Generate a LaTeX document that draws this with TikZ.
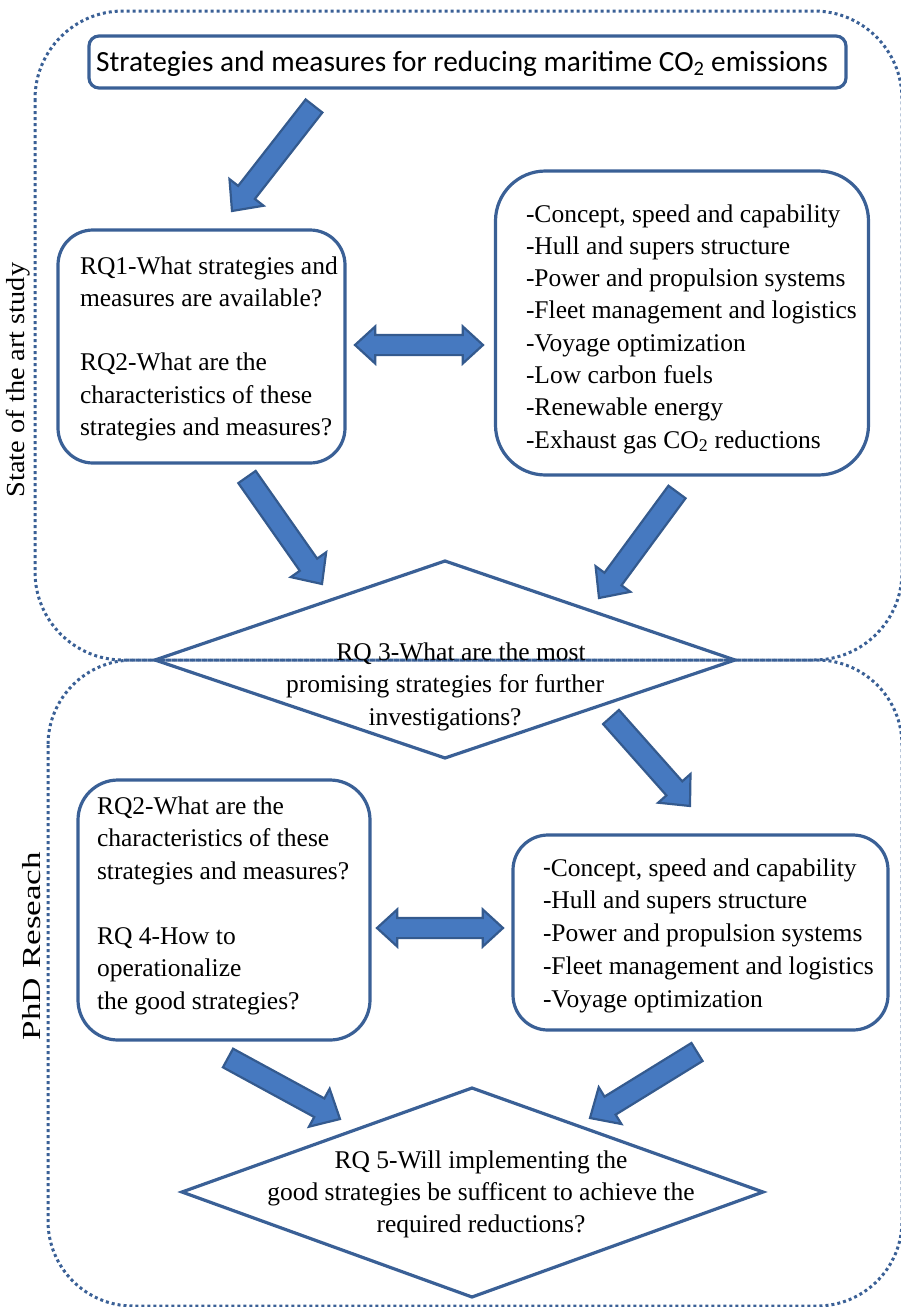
\documentclass[tikz,border=0pt]{standalone}
\usepackage{fontspec}
\setmainfont{Liberation Serif}
\newfontfamily\titlefnt{Carlito}
\usetikzlibrary{shapes.arrows,calc}
\definecolor{bdr}{RGB}{58,96,150}
\definecolor{afill}{RGB}{70,121,192}
\definecolor{aline}{RGB}{52,90,142}
\newcommand\blockarr[2]{%
  \path let \p1=(#1), \p2=(#2), \n1={atan2(\y2-\y1,\x2-\x1)}, \n2={veclen(\x2-\x1,\y2-\y1)} in
    node[barrow, minimum height=\n2, rotate=\n1, anchor=tail] at (\p1) {};}
\begin{document}
\begin{tikzpicture}[x=1pt,y=-1pt,
  box/.style={draw=bdr, line width=3.2pt, fill=white, inner sep=0pt, outer sep=0pt},
  dotline/.style={draw=bdr, line width=3pt, dash pattern=on 3pt off 3pt},
  dia/.style={draw=bdr, line width=3.2pt, line join=miter},
  txt/.style={inner sep=0pt, outer sep=0pt, align=left, anchor=north west, font=\fontsize{25.5}{32.3}\selectfont},
  ctxt/.style={inner sep=0pt, outer sep=0pt, align=center, anchor=north, font=\fontsize{25.5}{32.5}\selectfont},
  barrow/.style={single arrow, draw=aline, fill=afill, line width=2.2pt, inner xsep=0pt, inner ysep=9.5pt, outer sep=0pt,
    single arrow head extend=11pt, single arrow tip angle=85, shape border rotate=0},
  darrow/.style={double arrow, draw=aline, fill=afill, line width=2.2pt, inner xsep=0pt, inner ysep=9pt, outer sep=0pt,
    double arrow head extend=8.5pt, double arrow tip angle=85, minimum height=128pt},
  side/.style={inner sep=0pt, rotate=90, font=\fontsize{26}{30}\selectfont}
]
\useasboundingbox (0,0) rectangle (901,1307);
\clip (0,0) rectangle (901,1307);

% regions
\draw[dotline, rounded corners=88pt] (35,11) rectangle (902,660);
\draw[dotline, rounded corners=85pt] (48,660) rectangle (902,1306);
\node[side, xscale=1.09] (lab1) at (18,380) {State of the art study};
\node[side, xscale=1.35] (lab2) at (32,946) {PhD Reseach};

% title
\node[box, rounded corners=10pt, minimum width=757pt, minimum height=52pt] (title) at (467.5,62) {};
\node[inner sep=0pt, anchor=base, font=\titlefnt\fontsize{29.3}{32}\selectfont] (titletxt) at (462,71)
  {Strategies and measures for reducing maritime CO\textsubscript{2} emissions};

% upper boxes
\node[box, rounded corners=35pt, minimum width=287pt, minimum height=233pt] (lb1) at (201.5,346.5) {};
\node[txt] (lb1t) at (80,251.4) {\strut RQ1-What strategies and\\measures are available?\\[32.3pt]RQ2-What are the\\characteristics of these\\strategies and measures?};
\node[box, rounded corners=50pt, minimum width=373pt, minimum height=304pt] (rb1) at (682,323) {};
\node[txt] (rb1t) at (526,199.4) {\strut -Concept, speed and capability\\-Hull and supers structure\\-Power and propulsion systems\\-Fleet management and logistics\\-Voyage optimization\\-Low carbon fuels\\-Renewable energy\\-Exhaust gas CO\textsubscript{2} reductions};

% diamond 1
\coordinate (d1l) at (155,660);
\coordinate (d1t) at (445,561);
\coordinate (d1r) at (735,660);
\coordinate (d1b) at (445,758);
\draw[dia] (d1l) -- (d1t) -- (d1r) -- (d1b) -- cycle;
\node[ctxt] (d1txt) at (445,637.4) {\strut\hspace*{32pt}RQ 3-What are the most\\promising strategies for further\\investigations?};

% lower boxes
\node[box, rounded corners=40pt, minimum width=292pt, minimum height=260pt] (lb2) at (224,910) {};
\node[txt, font=\fontsize{25.5}{32.5}\selectfont] (lb2t) at (97,791.4) {\strut RQ2-What are the\\characteristics of these\\strategies and measures?\\[32.5pt]RQ 4-How to\\operationalize\\the good strategies?};
\node[box, rounded corners=35pt, minimum width=375pt, minimum height=195pt] (rb2) at (700.5,932.5) {};
\node[txt, font=\fontsize{25.5}{32.75}\selectfont] (rb2t) at (543,853.1) {\strut {\titlefnt -}Concept, speed and capability\\-Hull and supers structure\\-Power and propulsion systems\\-Fleet management and logistics\\-Voyage optimization};

% diamond 2
\coordinate (d2l) at (182,1192);
\coordinate (d2t) at (472,1088);
\coordinate (d2r) at (763,1192);
\coordinate (d2b) at (472,1297);
\draw[dia] (d2l) -- (d2t) -- (d2r) -- (d2b) -- cycle;
\node[ctxt, font=\fontsize{25.5}{32}\selectfont] (d2txt) at (481,1146.4) {\strut RQ 5-Will implementing the\\good strategies be sufficent to achieve the\\required reductions?};

% block arrows
\coordinate (a1s) at (314,106);  \coordinate (a1e) at (232,211);
\coordinate (a2s) at (247,477);  \coordinate (a2e) at (322,584);
\coordinate (a3s) at (677,492);  \coordinate (a3e) at (599,598);
\coordinate (a4s) at (611,717);  \coordinate (a4e) at (690,806);
\coordinate (a5s) at (228,1058); \coordinate (a5e) at (340,1119);
\coordinate (a6s) at (697,1052); \coordinate (a6e) at (590,1118);
\blockarr{a1s}{a1e}
\blockarr{a2s}{a2e}
\blockarr{a3s}{a3e}
\blockarr{a4s}{a4e}
\blockarr{a5s}{a5e}
\blockarr{a6s}{a6e}

% double arrows
\node[darrow] (dbl1) at (419,345) {};
\node[darrow, minimum height=126pt] (dbl2) at (440,928) {};
\end{tikzpicture}
\end{document}
